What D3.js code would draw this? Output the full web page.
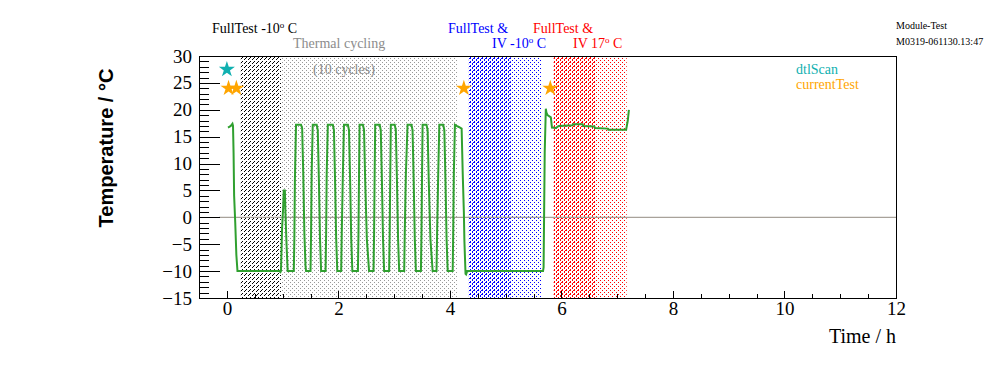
<!DOCTYPE html>
<html>
<head>
<meta charset="utf-8">
<script src="https://cdn.jsdelivr.net/npm/d3@7"></script>
<style>
  body { margin: 0; background: #fff; }
  text { font-family: "Liberation Serif", "Times New Roman", serif; }
</style>
</head>
<body>
<script>
// temperature log of the module test (time in hours, temperature in deg C)
const timeH = [0.02, 0.07, 0.10, 0.11, 0.12, 0.13, 0.15, 0.17, 0.19, 0.94, 0.96, 0.97, 0.99, 1.01, 1.02, 1.04, 1.05, 1.07, 1.09, 1.20,
  1.21, 1.22, 1.24, 1.33, 1.35, 1.37, 1.39, 1.41, 1.42, 1.50,
  1.51, 1.52, 1.54, 1.61, 1.63, 1.65, 1.67, 1.69, 1.77,
  1.78, 1.79, 1.81, 1.90, 1.92, 1.94, 1.96, 1.98, 2.05,
  2.06, 2.08, 2.10, 2.17, 2.19, 2.21, 2.23, 2.25, 2.35,
  2.36, 2.37, 2.38, 2.44, 2.46, 2.48, 2.51, 2.55, 2.63,
  2.64, 2.65, 2.66, 2.74, 2.76, 2.78, 2.80, 2.82, 2.91,
  2.92, 2.93, 2.94, 3.01, 3.03, 3.05, 3.07, 3.09, 3.18,
  3.19, 3.21, 3.24, 3.31, 3.33, 3.35, 3.37, 3.39, 3.48,
  3.49, 3.50, 3.51, 3.58, 3.60, 3.62, 3.65, 3.69, 3.76,
  3.77, 3.79, 3.81, 3.88, 3.90, 3.92, 3.94, 3.96, 4.05,
  4.06, 4.07, 4.09, 4.12, 4.16, 4.21, 4.23, 4.25, 4.26, 4.28, 4.29, 4.31,
  5.67, 5.68, 5.70, 5.72, 5.73, 5.75, 5.81, 5.83, 5.90, 5.95, 6.20, 6.21, 6.38, 6.39, 6.59, 6.60, 6.83, 6.84, 7.16, 7.19, 7.21];
const tempC = [16.7, 17.0, 17.4, 17.0, 12, 4, -1, -7, -10, -10, -10.2, -10, -2, 2, 5, 5, 1, -5, -10, -10,
  -4, 7, 17.2, 17.2, 16.6, 8, -3, -9, -10, -10,
  -3, 8, 17.2, 17.2, 16.2, 7, -4, -10, -10,
  -3, 8, 17.2, 17.2, 16.2, 7, -4, -10, -10,
  -3, 8, 17.2, 17.2, 16.2, 7, -4, -10, -10,
  -3, 8, 17.2, 17.2, 16.2, 7, -4, -10, -10,
  -3, 8, 17.2, 17.2, 16.2, 7, -4, -10, -10,
  -3, 8, 17.2, 17.2, 16.2, 7, -4, -10, -10,
  -3, 8, 17.2, 17.2, 16.2, 7, -4, -10, -10,
  -3, 8, 17.2, 17.2, 16.2, 7, -4, -10, -10,
  -3, 8, 17.2, 17.2, 16.2, 7, -4, -10, -10,
  -2, 8, 17.2, 17.0, 16.8, 16.5, 8, 1, -4.5, -10.5, -10.6, -10,
  -10, -9.3, 12, 20.2, 19.5, 19.0, 18.6, 16.7, 16.6, 17.0, 17.1, 17.3, 17.3, 17.0, 16.9, 16.6, 16.5, 16.3, 16.3, 18, 20];

// test markers
const dtlScanT = [0.0];
const dtlScanV = [27.5];
const currentTestT = [0.03, 0.17, 4.25, 5.80];
const currentTestV = [24, 24, 24, 24];

// test periods (hours)
const fullTestStart = [0.25, 4.34, 5.86];
const fullTestEnd = [0.97, 5.65, 7.17];
const ivStart = [4.34, 5.86];
const ivEnd = [5.09, 6.62];
const cyclingStart = 0.97, cyclingEnd = 4.14;

const xTicks = [0, 2, 4, 6, 8, 10, 12];
const yTicks = [-15, -10, -5, 0, 5, 10, 15, 20, 25, 30];

const W = 996, H = 372;
const frame = {left: 199, right: 896, top: 56, bottom: 298};

const svg = d3.select("body").append("svg")
    .attr("width", W)
    .attr("height", H);

const x = d3.scaleLinear().domain([-0.5, 12]).range([frame.left, frame.right]);
const y = d3.scaleLinear().domain([-15, 30]).range([frame.bottom, frame.top]);

// fill patterns (ROOT like hatches and dots)
const defs = svg.append("defs");
function pixPattern(id, color, cells) {
    const p = defs.append("pattern").attr("id", id)
        .attr("patternUnits", "userSpaceOnUse")
        .attr("width", 4).attr("height", 4);
    cells.forEach(c =>
        p.append("rect").attr("x", c[0]).attr("y", c[1])
            .attr("width", 1).attr("height", 1).attr("fill", color));
}
const hatchCells = [[0, 3], [1, 2], [2, 1]];
const dotCells = [[0, 0], [2, 2]];
pixPattern("hBlack", "#000", hatchCells);
pixPattern("hBlue", "#0000ff", hatchCells);
pixPattern("hRed", "#ff0000", hatchCells);
pixPattern("dGrey", "#999", dotCells);
pixPattern("dBlue", "#0000ff", dotCells);
pixPattern("dRed", "#ff0000", dotCells);

const fullFill = ["url(#hBlack)", "url(#dBlue)", "url(#dRed)"];
const ivFill = ["url(#hBlue)", "url(#hRed)"];

// thermal cycling box
svg.append("rect")
    .attr("x", x(cyclingStart))
    .attr("y", frame.top)
    .attr("width", x(cyclingEnd) - x(cyclingStart))
    .attr("height", frame.bottom - frame.top)
    .attr("fill", "url(#dGrey)");

svg.selectAll(".full")
    .data(fullTestStart)
    .enter()
    .append("rect")
    .attr("class", "full")
    .attr("x", d => x(d))
    .attr("y", frame.top)
    .attr("width", (d, i) => x(fullTestEnd[i]) - x(d))
    .attr("height", frame.bottom - frame.top)
    .attr("fill", (d, i) => fullFill[i]);

svg.selectAll(".iv")
    .data(ivStart)
    .enter()
    .append("rect")
    .attr("class", "iv")
    .attr("x", d => x(d))
    .attr("y", frame.top)
    .attr("width", (d, i) => x(ivEnd[i]) - x(d))
    .attr("height", frame.bottom - frame.top)
    .attr("fill", (d, i) => ivFill[i]);

// zero line
svg.append("line")
    .attr("x1", x(-0.14))
    .attr("x2", x(12))
    .attr("y1", y(0))
    .attr("y2", y(0))
    .attr("stroke", "#a8a29a")
    .attr("stroke-width", 1.2);

// axes, ticks drawn inside the frame
const yMinor = d3.range(-15, 31, 1);
svg.append("g")
    .attr("transform", `translate(${frame.left},0)`)
    .call(d3.axisLeft(y).tickValues(yMinor).tickSize(-10).tickFormat(""))
    .call(g => g.select(".domain").remove());
svg.append("g")
    .attr("transform", `translate(${frame.left},0)`)
    .call(d3.axisLeft(y).tickValues(yTicks).tickSize(-21).tickPadding(7).tickFormat(d3.format("d")))
    .call(g => g.select(".domain").remove())
    .call(g => g.selectAll("text")
        .attr("font-family", "Liberation Serif")
        .attr("font-size", 19)
        .attr("fill", "#000"));

const xMinor = d3.range(0, 12.01, 0.5);
svg.append("g")
    .attr("transform", `translate(0,${frame.bottom})`)
    .call(d3.axisBottom(x).tickValues(xMinor).tickSize(-4).tickFormat(""))
    .call(g => g.select(".domain").remove());
svg.append("g")
    .attr("transform", `translate(0,${frame.bottom})`)
    .call(d3.axisBottom(x).tickValues(xTicks).tickSize(-7).tickPadding(3).tickFormat(d3.format("d")))
    .call(g => g.select(".domain").remove())
    .call(g => g.selectAll("text")
        .attr("font-family", "Liberation Serif")
        .attr("font-size", 19)
        .attr("fill", "#000"));

svg.selectAll(".tick line").attr("stroke", "#000").attr("shape-rendering", "crispEdges");

// frame
svg.append("rect")
    .attr("x", frame.left + 0.5)
    .attr("y", frame.top + 0.5)
    .attr("width", frame.right - frame.left)
    .attr("height", frame.bottom - frame.top)
    .attr("fill", "none")
    .attr("stroke", "#000")
    .attr("stroke-width", 1)
    .attr("shape-rendering", "crispEdges");

// temperature curve
const line = d3.line()
    .x(d => x(d[0]))
    .y(d => y(d[1]));
svg.append("path")
    .datum(timeH.map((t, i) => [t, tempC[i]]))
    .attr("d", line)
    .attr("fill", "none")
    .attr("stroke", "#30a030")
    .attr("stroke-width", 2)
    .attr("stroke-linejoin", "miter");

// markers
const star = d3.symbol().type(d3.symbolStar).size(80);
svg.selectAll(".dtl")
    .data(dtlScanT)
    .enter()
    .append("path")
    .attr("class", "dtl")
    .attr("d", star)
    .attr("transform", (d, i) => `translate(${x(d)},${y(dtlScanV[i])})`)
    .attr("fill", "#10b0b0");
svg.selectAll(".cur")
    .data(currentTestT)
    .enter()
    .append("path")
    .attr("class", "cur")
    .attr("d", star)
    .attr("transform", (d, i) => `translate(${x(d)},${y(currentTestV[i])})`)
    .attr("fill", "#ffa500");

// axis titles
svg.append("text")
    .attr("transform", "translate(113,148) rotate(-90)")
    .attr("text-anchor", "middle")
    .style("font-family", "Liberation Sans, Arial, sans-serif")
    .attr("font-weight", "bold")
    .attr("font-size", 20)
    .text("Temperature / °C");

svg.append("text")
    .attr("x", frame.right)
    .attr("y", 343)
    .attr("text-anchor", "end")
    .attr("font-size", 20)
    .text("Time / h");

// annotations
function degLabel(px, py, pre, post, color) {
    const t = svg.append("text")
        .attr("x", px).attr("y", py)
        .attr("font-size", 14)
        .attr("fill", color);
    t.append("tspan").text(pre);
    t.append("tspan").attr("dy", -5).attr("font-size", 9).text("o");
    t.append("tspan").attr("dy", 5).text(post);
}
degLabel(212, 33, "FullTest -10", " C", "#000");
degLabel(492, 47.5, "IV -10", " C", "#0000ff");
degLabel(573, 47.5, "IV 17", " C", "#ff0000");

const notes = [
    {text: "Thermal cycling", px: 293, py: 47.5, color: "#8c8c8c", size: 14},
    {text: "(10 cycles)", px: 313, py: 74, color: "#8c8c8c", size: 14},
    {text: "FullTest &", px: 448, py: 33, color: "#0000ff", size: 14},
    {text: "FullTest &", px: 533, py: 33, color: "#ff0000", size: 14},
    {text: "dtlScan", px: 796, py: 74, color: "#10b0b0", size: 14},
    {text: "currentTest", px: 796, py: 89, color: "#ffa500", size: 14},
    {text: "Module-Test", px: 896, py: 29, color: "#000", size: 10},
    {text: "M0319-061130.13:47", px: 896, py: 44.5, color: "#000", size: 10}
];
svg.selectAll(".note")
    .data(notes)
    .enter()
    .append("text")
    .attr("class", "note")
    .attr("x", d => d.px)
    .attr("y", d => d.py)
    .attr("font-size", d => d.size)
    .attr("fill", d => d.color)
    .text(d => d.text);
</script>
</body>
</html>
